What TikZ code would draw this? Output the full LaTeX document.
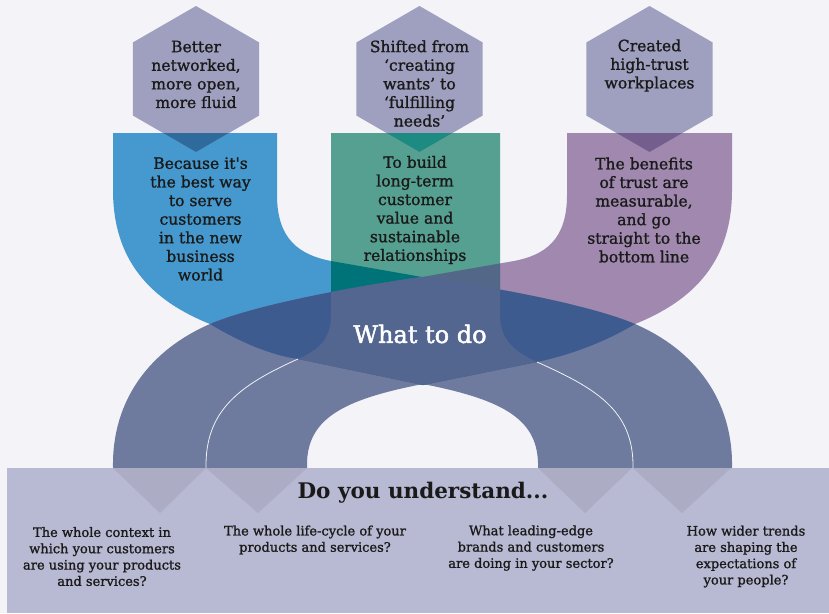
\documentclass[tikz,border=0pt]{standalone}
\usepackage{fontspec}
\setmainfont{DejaVu Serif}
\newfontfamily\bodyfont{DejaVu Serif}[FakeBold=1.2]
\newfontfamily\midfont{DejaVu Serif}[FakeBold=2]
\newfontfamily\titlefont{DejaVu Serif Bold}
\definecolor{bgc}{HTML}{F3F3F8}
\definecolor{hexc}{HTML}{9FA0BF}
\definecolor{bluec}{HTML}{4599CE}
\definecolor{greenc}{HTML}{55A091}
\definecolor{purplec}{HTML}{A088AE}
\definecolor{tealc}{HTML}{007379}
\definecolor{pgc}{HTML}{536788}
\definecolor{legc}{HTML}{6E7A9E}
\definecolor{darkbc}{HTML}{3D5B8F}
\definecolor{centc}{HTML}{536690}
\definecolor{hexbc}{HTML}{2E6A9C}
\definecolor{hexgc}{HTML}{1E8B82}
\definecolor{hexpc}{HTML}{735E8E}
\definecolor{boxc}{HTML}{B8B9D2}
\definecolor{tric}{HTML}{ACADC5}
\definecolor{txtc}{HTML}{1A1A1A}
\tikzset{
  bandtext/.style={text=txtc, align=center, inner sep=0pt, font=\bodyfont\fontsize{15.6}{18.6}\selectfont},
  smalltext/.style={text=txtc, align=center, inner sep=0pt, font=\bodyfont\fontsize{13}{16.3}\selectfont},
  titletext/.style={text=txtc, inner sep=0pt, font=\titlefont\fontsize{21.5}{24}\selectfont},
  whitetext/.style={text=white, inner sep=0pt, font=\midfont\fontsize{24}{26}\selectfont},
  divline/.style={white!90!legc, line width=0.8pt}
}
\newcommand{\hexpath}[2]{(#1,#2-73) -- (#1+63.2,#2-36.5) -- (#1+63.2,#2+36.5) -- (#1,#2+73) -- (#1-63.2,#2+36.5) -- (#1-63.2,#2-36.5) -- cycle}
\newcommand{\blueshape}{(113,133) -- (277,133) -- (277,195) .. controls (277,240) and (300,255) .. (331,261) -- (422,277) -- (423,385) -- (298,359) .. controls (270,355) and (240,342) .. (210,324) .. controls (150,300) and (113,260) .. (113,190) -- cycle}
\newcommand{\purpleshape}{(732,133) -- (567,133) -- (567,195) .. controls (567,240) and (545,255) .. (514,261) -- (422,277) -- (423,385) -- (537,362) .. controls (570,355) and (605,342) .. (635,324) .. controls (695,300) and (732,260) .. (732,190) -- cycle}
\newcommand{\greenshape}{(331,133) -- (331,315) .. controls (331,340) and (318,350) .. (298,359) -- (423,385) -- (537,362) .. controls (515,352) and (500,340) .. (500,315) -- (500,133) -- cycle}
\newcommand{\archshape}{(113,472) -- (113,467) .. controls (112,400) and (150,350) .. (210,324) .. controls (260,303) and (365,285) .. (422,277) .. controls (480,285) and (585,303) .. (635,324) .. controls (695,350) and (733,400) .. (732,467) -- (732,472) -- (538,472) -- (538,467) .. controls (539,420) and (505,400) .. (423,384) .. controls (340,400) and (306,420) .. (307,467) -- (307,472) -- cycle}
\begin{document}
\begin{tikzpicture}[x=1pt,y=-1pt]
\useasboundingbox (0,0) rectangle (829,613);
\fill[bgc] (0,0) rectangle (829,613);
% ribbons
\fill[bluec] \blueshape;
\fill[purplec] \purpleshape;
\fill[greenc] \greenshape;
\begin{scope}
  \clip \greenshape;
  \fill[tealc] \blueshape;
  \fill[pgc] \purpleshape;
\end{scope}
% arch
\fill[legc] \archshape;
\begin{scope}
  \clip \archshape;
  \fill[darkbc] \blueshape;
  \fill[darkbc] \purpleshape;
  \fill[centc] \greenshape;
\end{scope}
% white dividing lines
\coordinate (wl1) at (298,359);
\coordinate (wl2) at (206,468);
\coordinate (wr1) at (537,362);
\coordinate (wr2) at (633,468);
\draw[divline] (wl1) .. controls (240,385) and (205,410) .. (wl2);
\draw[divline] (wr1) .. controls (595,388) and (634,410) .. (wr2);
% hexagons
\fill[hexc] \hexpath{196}{79};
\fill[hexc] \hexpath{419.5}{79};
\fill[hexc] \hexpath{649.5}{79};
\begin{scope}
  \clip (0,133) rectangle (829,200);
  \fill[hexbc] \hexpath{196}{79};
  \fill[hexgc] \hexpath{419.5}{79};
  \fill[hexpc] \hexpath{649.5}{79};
\end{scope}
% bottom box
\fill[boxc] (7,468) rectangle (829,613);
\fill[tric] (113,468) -- (206,468) -- (160,513) -- cycle;
\fill[tric] (206,468) -- (307,468) -- (258,513) -- cycle;
\fill[tric] (538,468) -- (632,468) -- (585,513) -- cycle;
\fill[tric] (633,468) -- (731,468) -- (682,513) -- cycle;
% texts
\node[bandtext] (h1) at (196,74.5) {Better\\networked,\\more open,\\more fluid};
\node[bandtext] (h2) at (419.5,83.5) {Shifted from\\‘creating\\wants’ to\\‘fulfilling\\needs’};
\node[bandtext] (h3) at (649.5,65.5) {Created\\high-trust\\workplaces};
\node[bandtext] (b1) at (200.5,219) {Because it's\\the best way\\to serve\\customers\\in the new\\business\\world};
\node[bandtext] (b2) at (415,210) {To build\\long-term\\customer\\value and\\sustainable\\relationships};
\node[bandtext] (b3) at (644,210) {The benefits\\of trust are\\measurable,\\and go\\straight to the\\bottom line};
\node[whitetext] (wtd) at (420,334) {What to do};
\node[titletext] (dyu) at (423,493) {Do you understand...};
\node[smalltext] (q1) at (102,556.5) {The whole context in\\which your customers\\are using your products\\and services?};
\node[smalltext] (q2) at (315,540) {The whole life-cycle of your\\products and services?};
\node[smalltext] (q3) at (531,548) {What leading-edge\\brands and customers\\are doing in your sector?};
\node[smalltext] (q4) at (746,556.5) {How wider trends\\are shaping the\\expectations of\\your people?};
\end{tikzpicture}
\end{document}
